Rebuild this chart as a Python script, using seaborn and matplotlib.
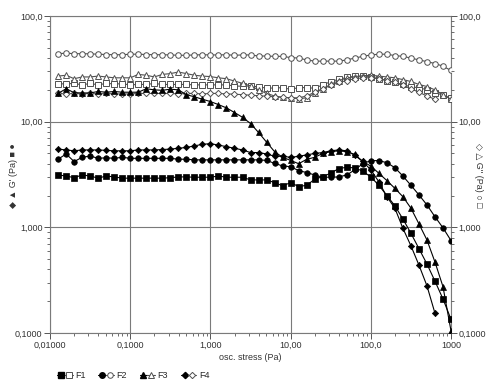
import matplotlib
matplotlib.use('Agg')
import numpy as np
import pandas as pd
import matplotlib.pyplot as plt
import seaborn as sns
from matplotlib.lines import Line2D
from matplotlib.legend_handler import HandlerTuple
from matplotlib.ticker import FixedLocator, FixedFormatter, LogLocator, NullFormatter

# osc. stress (Pa), 10 points per decade
stress = [0.01259, 0.01585, 0.01995, 0.02512, 0.03162, 0.03981, 0.05012, 0.0631, 0.07943, 0.1,
          0.1259, 0.1585, 0.1995, 0.2512, 0.3162, 0.3981, 0.5012, 0.631, 0.7943, 1.0,
          1.259, 1.585, 1.995, 2.512, 3.162, 3.981, 5.012, 6.31, 7.943, 10.0,
          12.59, 15.85, 19.95, 25.12, 31.62, 39.81, 50.12, 63.1, 79.43, 100.0,
          125.9, 158.5, 199.5, 251.2, 316.2, 398.1, 501.2, 631.0, 794.3, 1000.0]

# G' (filled markers)
f1_g1 = [3.13, 3.06, 2.95, 3.13, 3.06, 2.92, 3.06, 3.0, 2.92, 2.92,
         2.92, 2.92, 2.92, 2.92, 2.95, 3.0, 3.0, 2.98, 2.98, 2.98,
         3.06, 2.98, 2.98, 2.98, 2.81, 2.81, 2.81, 2.65, 2.47, 2.65,
         2.43, 2.5, 2.85, 3.02, 3.25, 3.6, 3.7, 3.65, 3.4, 3.0,
         2.5, 2.0, 1.6, 1.2, 0.88, 0.63, 0.45, 0.31, 0.21, 0.135]
f2_g1 = [4.41, 4.95, 4.19, 4.6, 4.73, 4.5, 4.55, 4.5, 4.6, 4.5,
         4.5, 4.5, 4.5, 4.5, 4.5, 4.41, 4.41, 4.35, 4.35, 4.35,
         4.35, 4.35, 4.35, 4.35, 4.35, 4.35, 4.3, 4.03, 3.81, 3.75,
         3.44, 3.3, 3.13, 2.98, 2.98, 3.0, 3.13, 3.5, 4.0, 4.28,
         4.28, 4.09, 3.67, 3.06, 2.5, 2.03, 1.63, 1.26, 0.99, 0.75]
f3_g1 = [18.5, 20.5, 18.8, 18.7, 18.7, 19.3, 19.0, 19.3, 19.0, 19.0,
         19.0, 20.5, 20.0, 19.8, 20.3, 20.0, 18.0, 17.2, 16.3, 15.5,
         14.5, 13.5, 12.2, 11.0, 9.6, 7.9, 6.4, 5.2, 4.6, 4.3,
         4.0, 4.4, 4.6, 5.0, 5.2, 5.3, 5.2, 4.9, 4.2, 3.8,
         3.25, 2.77, 2.34, 1.95, 1.52, 1.08, 0.76, 0.47, 0.275, 0.105]
f4_g1 = [5.5, 5.4, 5.3, 5.4, 5.4, 5.4, 5.35, 5.3, 5.3, 5.3,
         5.4, 5.4, 5.4, 5.45, 5.5, 5.6, 5.7, 5.9, 6.1, 6.2,
         6.0, 5.8, 5.6, 5.4, 5.1, 5.1, 4.95, 4.7, 4.7, 4.6,
         4.7, 4.85, 5.0, 5.1, 5.3, 5.4, 5.3, 4.8, 4.2, 3.5,
         2.7, 1.95, 1.52, 0.98, 0.67, 0.44, 0.28, 0.154]

# G'' (open markers)
f1_g2 = [22.8, 22.8, 23.0, 22.3, 23.0, 22.3, 23.0, 22.8, 22.8, 22.3,
         22.5, 22.5, 23.0, 22.5, 22.5, 22.5, 22.5, 22.3, 22.3, 22.3,
         22.3, 22.3, 21.8, 21.6, 21.8, 21.3, 20.8, 20.8, 21.0, 20.2,
         21.0, 21.0, 20.7, 22.3, 23.9, 25.2, 26.2, 26.9, 26.9, 26.5,
         25.5, 24.5, 23.5, 22.5, 21.3, 21.0, 20.0, 18.6, 18.0, 16.6]
f2_g2 = [44.0, 44.5, 44.0, 44.0, 43.8, 43.5, 43.2, 43.0, 43.0, 43.5,
         43.5, 43.2, 43.0, 43.0, 42.8, 42.5, 42.5, 42.8, 43.0, 42.8,
         42.8, 43.0, 42.5, 42.8, 42.8, 41.8, 41.8, 41.5, 41.5, 40.4,
         40.0, 38.4, 37.4, 37.4, 37.4, 37.4, 38.4, 40.0, 41.5, 42.8,
         43.5, 43.5, 42.2, 41.5, 40.0, 38.4, 37.0, 35.5, 33.5, 30.5]
f3_g2 = [27.0, 27.5, 25.5, 26.5, 26.5, 27.0, 26.5, 26.0, 26.0, 26.0,
         28.0, 27.5, 26.5, 28.0, 28.5, 29.5, 28.5, 27.5, 27.0, 26.7,
         26.0, 25.5, 24.2, 23.1, 21.8, 20.0, 18.5, 17.5, 17.0, 16.8,
         16.5, 16.8, 18.5, 20.5, 22.5, 24.5, 25.8, 26.7, 27.2, 27.5,
         27.0, 26.5, 26.0, 25.0, 24.0, 22.5, 21.5, 20.0, 18.0, 16.3]
f4_g2 = [18.5, 18.3, 18.5, 18.3, 18.5, 18.3, 18.5, 18.3, 18.3, 18.3,
         18.5, 18.5, 18.5, 18.5, 18.5, 18.3, 18.5, 18.5, 18.3, 18.5,
         18.5, 18.3, 18.2, 18.0, 17.8, 17.6, 17.4, 17.2, 17.0, 16.8,
         16.8, 17.5, 19.0, 20.5, 22.0, 23.5, 24.5, 25.5, 26.0, 26.0,
         25.5, 24.5, 23.5, 22.0, 20.5, 19.0, 17.5, 16.3]

names = ['F1', 'F2', 'F3', 'F4']
markers = ['s', 'o', '^', 'D']
msizes = [4, 4, 4.5, 3.2]
g1_all = [f1_g1, f2_g1, f3_g1, f4_g1]
g2_all = [f1_g2, f2_g2, f3_g2, f4_g2]

rows = []
for name, g1, g2 in zip(names, g1_all, g2_all):
    for x, v in zip(stress, g1):
        rows.append((name, 'G1', x, v))
    for x, v in zip(stress, g2):
        rows.append((name, 'G2', x, v))
df = pd.DataFrame(rows, columns=['sample', 'mod', 'stress', 'value'])

sns.set_style('white')
plt.rcParams['font.family'] = ['Liberation Sans', 'DejaVu Sans']

fig = plt.figure(figsize=(4.91, 3.81), dpi=100)
ax = fig.add_axes([0.102, 0.126, 0.8165, 0.832])

handles = []
for name, m, ms in zip(names, markers, msizes):
    d1 = df[(df['sample'] == name) & (df['mod'] == 'G1')]
    d2 = df[(df['sample'] == name) & (df['mod'] == 'G2')]
    sns.lineplot(data=d2, x='stress', y='value', ax=ax, color='#505050', lw=0.8,
                 marker=m, markersize=ms, markerfacecolor='white', markeredgecolor='#505050',
                 markeredgewidth=0.7, estimator=None, sort=False, zorder=3)
    sns.lineplot(data=d1, x='stress', y='value', ax=ax, color='black', lw=0.8,
                 marker=m, markersize=ms, markerfacecolor='black', markeredgecolor='black',
                 markeredgewidth=0.5, estimator=None, sort=False, zorder=4)
    h1 = Line2D([], [], color='black', lw=0.8, marker=m, markersize=ms,
                markerfacecolor='black', markeredgecolor='black')
    h2 = Line2D([], [], color='#505050', lw=0.8, marker=m, markersize=ms,
                markerfacecolor='white', markeredgecolor='#505050', markeredgewidth=0.7)
    handles.append((h1, h2))

ax.set_xscale('log')
ax.set_yscale('log')
ax.set_xlim(0.01, 1000)
ax.set_ylim(0.1, 100)

xt = [0.01, 0.1, 1, 10, 100, 1000]
xl = ['0,01000', '0,1000', '1,000', '10,00', '100,0', '1000']
yt = [0.1, 1, 10, 100]
yl = ['0,1000', '1,000', '10,00', '100,0']

ax.xaxis.set_major_locator(FixedLocator(xt))
ax.xaxis.set_major_formatter(FixedFormatter(xl))
ax.yaxis.set_major_locator(FixedLocator(yt))
ax.yaxis.set_major_formatter(FixedFormatter(yl))
ax.xaxis.set_minor_locator(LogLocator(base=10, subs=np.arange(2, 10)))
ax.yaxis.set_minor_locator(LogLocator(base=10, subs=np.arange(2, 10)))
ax.xaxis.set_minor_formatter(NullFormatter())
ax.yaxis.set_minor_formatter(NullFormatter())

ax.grid(True, which='major', color='#7a7a7a', lw=0.8)
ax.tick_params(which='major', length=4, width=0.7, color='#555555', labelsize=6.5,
               labelcolor='#333333', pad=1.5, direction='out')
ax.tick_params(which='minor', length=2, width=0.6, color='#555555', direction='out')
ax.tick_params(axis='x', which='both', bottom=True)
ax.tick_params(axis='y', which='both', left=True)
for s in ax.spines.values():
    s.set_color('#7a7a7a')
    s.set_linewidth(0.8)

ax2 = ax.twinx()
ax2.set_yscale('log')
ax2.set_ylim(0.1, 100)
ax2.yaxis.set_major_locator(FixedLocator(yt))
ax2.yaxis.set_major_formatter(FixedFormatter(yl))
ax2.yaxis.set_minor_locator(LogLocator(base=10, subs=np.arange(2, 10)))
ax2.yaxis.set_minor_formatter(NullFormatter())
ax2.tick_params(which='major', length=4, width=0.7, color='#555555', labelsize=6.5,
                labelcolor='#333333', pad=1.5, direction='out', right=True)
ax2.tick_params(which='minor', length=2, width=0.6, color='#555555', direction='out', right=True)
for s in ax2.spines.values():
    s.set_visible(False)

ax.set_xlabel('osc. stress (Pa)', fontsize=6.5, color='#333333', labelpad=3)
ax.xaxis.set_label_coords(0.5, -0.062)
ax.set_ylabel('', fontsize=6.5)
fig.text(0.028, 0.54, "\u25c6 \u25b2 G' (Pa) \u25a0 \u25cf", rotation=90, fontsize=6.5,
         color='#333333', ha='center', va='center')
fig.text(0.975, 0.54, "\u25c7 \u25b3 G'' (Pa) \u25cb \u25a1", rotation=270, fontsize=6.5,
         color='#333333', ha='center', va='center')

fig.legend(handles=handles, labels=names, handler_map={tuple: HandlerTuple(ndivide=None, pad=0)},
           loc='lower left', bbox_to_anchor=(0.1, -0.02), ncol=4, frameon=False,
           fontsize=6.5, handlelength=1.7, columnspacing=1.4, handletextpad=0.3)

fig.savefig('out.png', dpi=100, facecolor='white')
